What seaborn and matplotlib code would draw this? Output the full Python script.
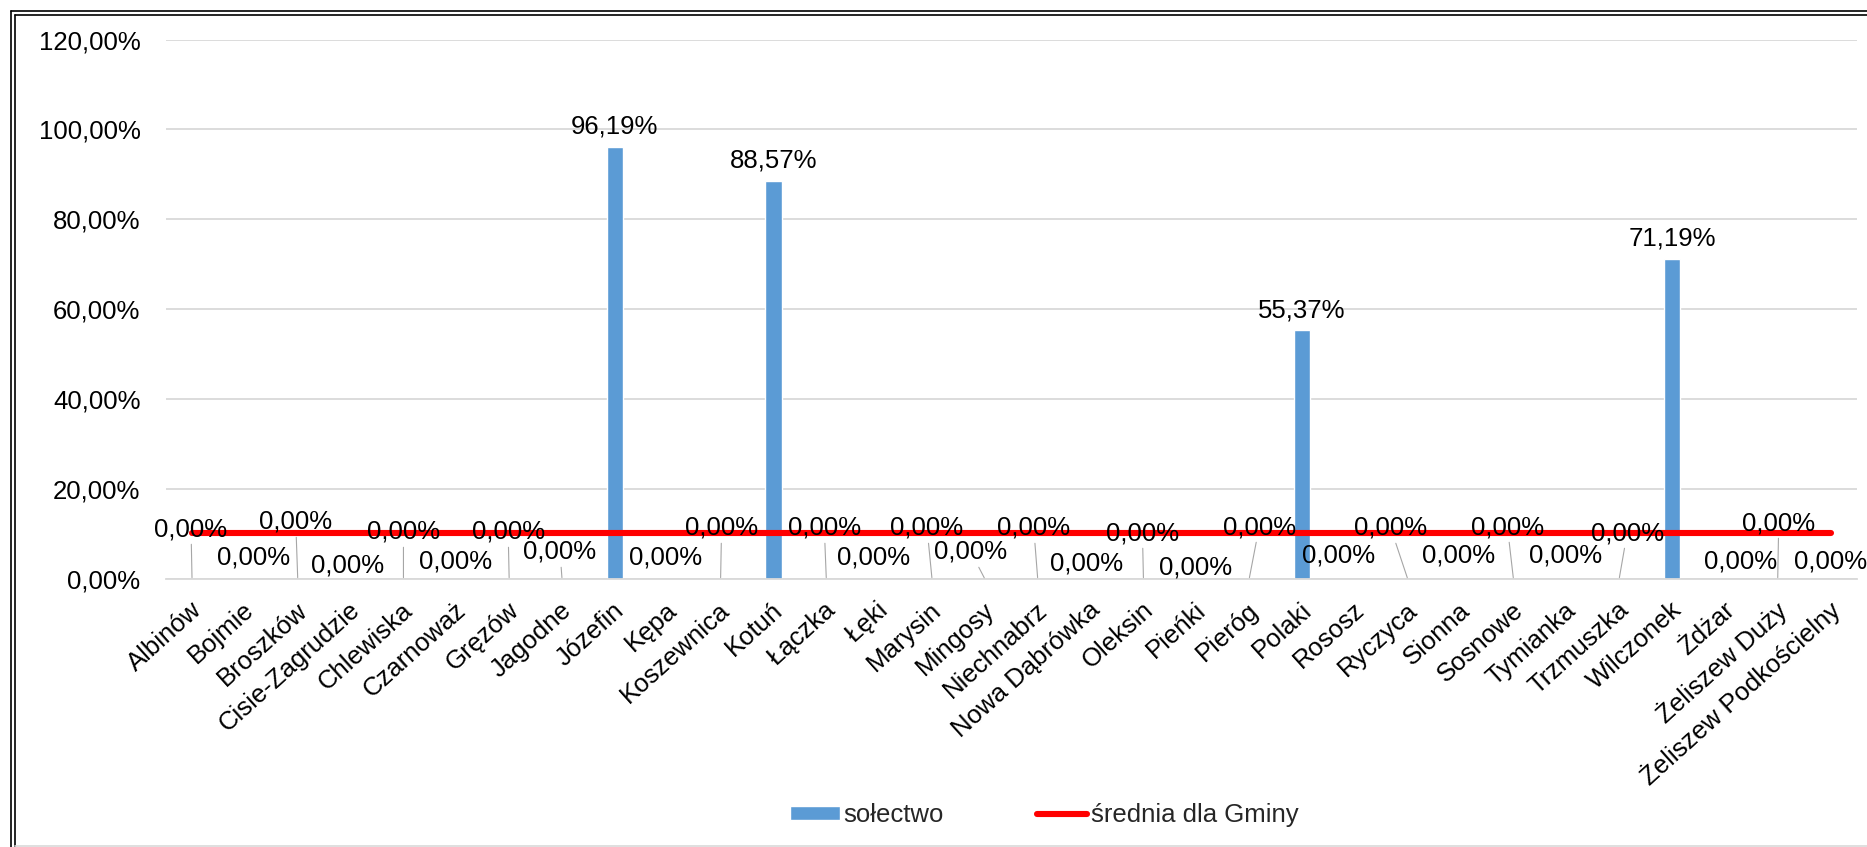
import numpy as np
import pandas as pd
import matplotlib
matplotlib.use("Agg")
import matplotlib.pyplot as plt
import matplotlib.lines as mlines
import seaborn as sns
from matplotlib.transforms import ScaledTranslation

# ---------------- data ----------------
categories = ["Albinów", "Bojmie", "Broszków", "Cisie-Zagrudzie", "Chlewiska", "Czarnoważ",
              "Gręzów", "Jagodne", "Józefin", "Kępa", "Koszewnica", "Kotuń", "Łączka", "Łęki",
              "Marysin", "Mingosy", "Niechnabrz", "Nowa Dąbrówka", "Oleksin", "Pieńki", "Pieróg",
              "Polaki", "Rososz", "Ryczyca", "Sionna", "Sosnowe", "Tymianka", "Trzmuszka",
              "Wilczonek", "Żdżar", "Żeliszew Duży", "Żeliszew Podkościelny"]
solectwo = [0.0, 0.0, 0.0, 0.0, 0.0, 0.0, 0.0, 0.0, 96.19, 0.0, 0.0, 88.57, 0.0, 0.0,
            0.0, 0.0, 0.0, 0.0, 0.0, 0.0, 0.0, 55.37, 0.0, 0.0, 0.0, 0.0, 0.0, 0.0,
            71.19, 0.0, 0.0, 0.0]
srednia = [10.3] * len(categories)
yticks = [0, 20, 40, 60, 80, 100, 120]
series_names = ["sołectwo", "średnia dla Gminy"]

# ---------------- layout of the data labels (pixels) ----------------
label_dx = [-1, 9, -2, -3, 0, -1, -1, -2, 0, -2, 1, 0, -2, -6, -5, -14, -4, -4, -1, -1, 10,
            0, -16, -17, -2, -6, -1, 8, 0, 16, 1, 0]
label_dy = [50, 22, 57, 13, 47, 17, 47, 27, 20, 22, 51, 20, 51, 21, 51, 27, 51, 16, 46, 12, 52,
            20, 24, 51, 24, 52, 24, 46, 20, 17, 56, 17]
leader = {0, 2, 4, 6, 7, 10, 12, 14, 15, 16, 18, 20, 23, 25, 27, 30}

BLUE = "#5B9BD5"
RED = "#FF0000"
GRID = "#D9D9D9"
FS = 18.5

sns.set_theme(style="white")
plt.rcParams["font.family"] = ["Liberation Sans", "DejaVu Sans"]

W, H, DPI = 1867, 847, 100
fig = plt.figure(figsize=(W / DPI, H / DPI), dpi=DPI)
ax = fig.add_axes([165.6 / W, 1 - 579 / H, (1857 - 165.6) / W, (579 - 39.5) / H])

df = pd.DataFrame({"cat": categories, "val": solectwo, "pos": np.arange(len(categories)),
                   "mean": srednia})

sns.barplot(data=df, x="cat", y="val", color=BLUE, saturation=1, width=0.31, ax=ax,
            label=series_names[0], zorder=2)
sns.lineplot(data=df, x="pos", y="mean", color=RED, linewidth=4.4, ax=ax, sort=False,
             label=series_names[1], zorder=3, solid_capstyle="round")

ax.set_xlim(-0.5, len(categories) - 0.5)
ax.set_ylim(0, 120)
ax.set_yticks(yticks)
ax.set_yticklabels([f"{v:.2f}".replace(".", ",") + "%" for v in yticks], fontsize=FS, color="black")
ax.set_xticks(np.arange(len(categories)))
ax.set_xticklabels(categories, rotation=42, ha="right", va="center", rotation_mode="anchor",
                   fontsize=FS, color="black")
ax.tick_params(axis="y", length=0, pad=18)
ax.tick_params(axis="x", length=0, pad=20)
for lab in ax.get_xticklabels():
    lab.set_transform(lab.get_transform() + ScaledTranslation(6 / DPI, 0, fig.dpi_scale_trans))
ax.set_xlabel("")
ax.set_ylabel("")
ax.grid(axis="y", color=GRID, linewidth=1.3, zorder=0)
ax.set_axisbelow(True)
for s in ["top", "right", "left"]:
    ax.spines[s].set_visible(False)
ax.spines["bottom"].set_color(GRID)
ax.spines["bottom"].set_linewidth(1.3)

# data labels
for i, v in enumerate(solectwo):
    txt = f"{v:.2f}".replace(".", ",") + "%"
    props = None
    if v == 0 and i in leader:
        props = dict(arrowstyle="-", color="#A6A6A6", lw=0.8, shrinkA=0, shrinkB=1)
    ax.annotate(txt, xy=(i, v), xytext=(label_dx[i], label_dy[i]), textcoords="offset pixels",
                ha="center", va="center", fontsize=FS, color="black", zorder=5,
                arrowprops=props)

# legend (bars first, then the line)
handles, labels = ax.get_legend_handles_labels()
order = [labels.index(n) for n in series_names]
leg = ax.legend([handles[k] for k in order], [labels[k] for k in order],
                loc="center", bbox_to_anchor=(1044 / W, 1 - 815 / H), bbox_transform=fig.transFigure,
                ncol=2, frameon=False, fontsize=FS, handlelength=1.95, handleheight=0.45,
                handletextpad=0.15, columnspacing=3.6)

# outer double border
for off in (11, 15):
    fig.add_artist(mlines.Line2D([off / W, 1], [1 - off / H, 1 - off / H], color="black",
                                 lw=1.2, transform=fig.transFigure))
    fig.add_artist(mlines.Line2D([off / W, off / W], [1 - off / H, 0], color="black",
                                 lw=1.2, transform=fig.transFigure))
fig.add_artist(mlines.Line2D([15 / W, 1], [1.5 / H, 1.5 / H], color=GRID, lw=1.2,
                             transform=fig.transFigure))

fig.savefig("out.png", dpi=DPI)
